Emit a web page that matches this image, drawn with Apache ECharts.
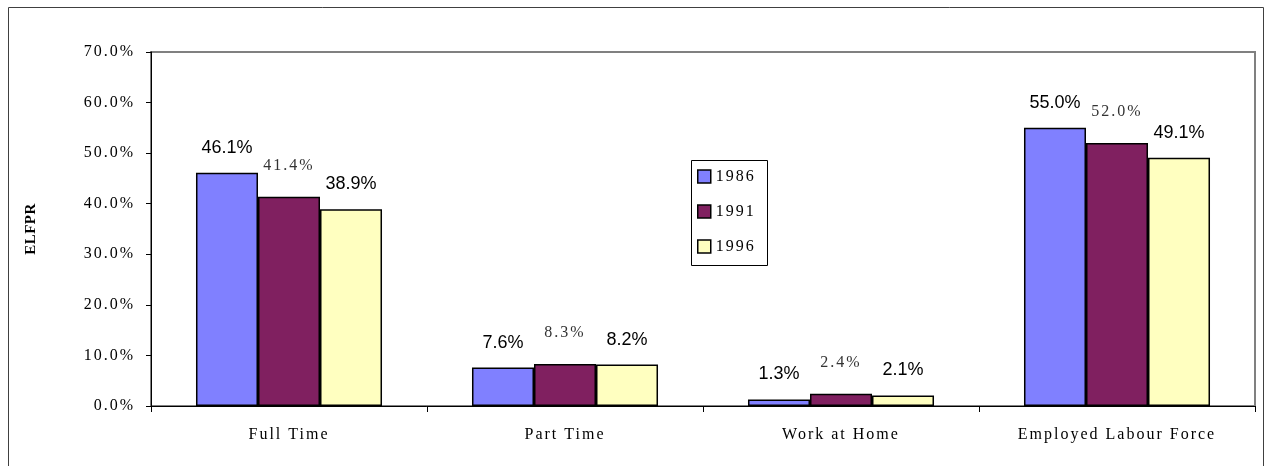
<!DOCTYPE html>
<html>
<head>
<meta charset="utf-8">
<script src="https://cdn.jsdelivr.net/npm/echarts@6/dist/echarts.min.js"></script>
<style>
  html, body { margin: 0; padding: 0; background: #fff; }
  #chart { width: 1269px; height: 466px; }
</style>
</head>
<body>
<div id="chart"></div>
<script>
// Employed labour force participation rate by work type and census year
const categories = ['Full Time', 'Part Time', 'Work at Home', 'Employed Labour Force'];
const years = ['1986', '1991', '1996'];
const s1986 = [46.1, 7.6, 1.3, 55.0];
const s1991 = [41.4, 8.3, 2.4, 52.0];
const s1996 = [38.9, 8.2, 2.1, 49.1];
const yTicks = { min: 0, max: 70, interval: 10 };

const SERIF = '"Liberation Serif", "Times New Roman", serif';
const SANS = '"Liberation Sans", Arial, sans-serif';
const colors = ['#8080FF', '#802060', '#FFFFC0'];

// Regular serif text in this chart is set with open tracking; apply it whenever
// a canvas context switches to a serif font (affects both measuring and drawing).
(function () {
  const proto = CanvasRenderingContext2D.prototype;
  const desc = Object.getOwnPropertyDescriptor(proto, 'font');
  if (!desc || !('letterSpacing' in proto)) return;
  Object.defineProperty(proto, 'font', {
    configurable: true,
    get() { return desc.get.call(this); },
    set(v) {
      desc.set.call(this, v);
      let sp = '0px';
      if (/Serif/.test(v)) sp = /bold/.test(v) ? '0.5px' : '2px';
      this.letterSpacing = sp;
    }
  });
})();

const pct = v => Number(v).toFixed(1) + '%';

function labelStyle(serif, dist) {
  return {
    show: true,
    position: 'top',
    distance: dist,
    formatter: p => pct(p.value),
    fontFamily: serif ? SERIF : SANS,
    fontSize: serif ? 16 : 18,
    color: serif ? '#333' : '#000'
  };
}

const seriesData = [s1986, s1991, s1996];
const labelCfg = [labelStyle(false, 16), labelStyle(true, 22), labelStyle(false, 16)];

const chart = echarts.init(document.getElementById('chart'));
chart.setOption({
  animation: false,
  backgroundColor: '#fff',
  color: colors,
  grid: {
    left: 151, right: 14, top: 52, bottom: 60,
    show: true, borderColor: '#808080', borderWidth: 2,
    backgroundColor: 'transparent'
  },
  graphic: [
    {
      type: 'rect', z: 100, silent: true,
      shape: { x: 8.5, y: 7.5, width: 1255, height: 470 },
      style: { fill: 'none', stroke: '#404040', lineWidth: 1 }
    },
    {
      type: 'rect', z: 100, silent: true,
      shape: { x: 691.5, y: 160.5, width: 76, height: 105 },
      style: { fill: '#fff', stroke: '#000', lineWidth: 1 }
    }
  ],
  legend: {
    data: years,
    orient: 'vertical',
    left: 697, top: 166,
    padding: 0,
    itemGap: 14,
    itemWidth: 13, itemHeight: 13,
    icon: 'rect',
    z: 110,
    itemStyle: { borderColor: '#000', borderWidth: 1.5 },
    textStyle: { fontFamily: SERIF, fontSize: 16, color: '#000', lineHeight: 21 }
  },
  xAxis: {
    type: 'category',
    data: categories,
    axisLine: { lineStyle: { color: '#000', width: 1 } },
    axisTick: { show: true, alignWithLabel: false, length: 6, lineStyle: { color: '#000' } },
    axisLabel: { margin: 20, fontFamily: SERIF, fontSize: 16, color: '#000' },
    splitLine: { show: false }
  },
  yAxis: {
    type: 'value',
    min: yTicks.min, max: yTicks.max, interval: yTicks.interval,
    name: 'ELFPR',
    nameLocation: 'middle',
    nameGap: 112,
    nameTextStyle: { fontFamily: SERIF, fontSize: 15, fontWeight: 'bold', color: '#000' },
    axisLine: { show: true, lineStyle: { color: '#000', width: 1 } },
    axisTick: { show: true, length: 5, lineStyle: { color: '#000' } },
    axisLabel: { margin: 16, formatter: v => pct(v), fontFamily: SERIF, fontSize: 16, color: '#000' },
    splitLine: { show: false }
  },
  series: years.map((y, i) => ({
    name: y,
    type: 'bar',
    data: seriesData[i],
    barGap: '0%',
    barCategoryGap: '32.6%',
    itemStyle: { color: colors[i], borderColor: '#000', borderWidth: 1.5 },
    label: labelCfg[i]
  }))
});
</script>
</body>
</html>
